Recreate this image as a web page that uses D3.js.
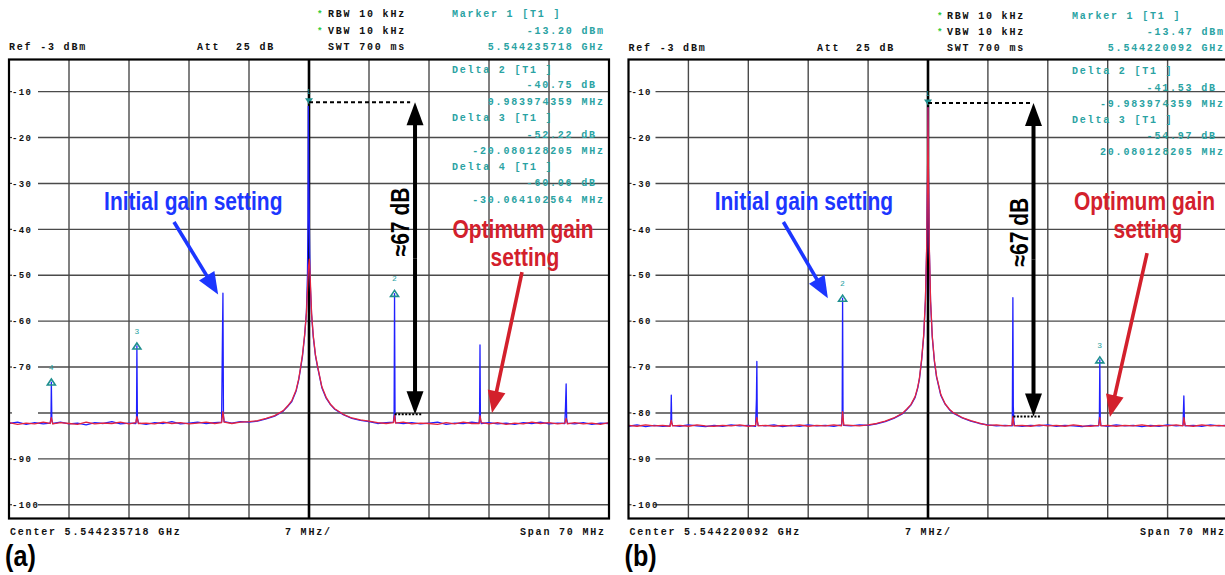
<!DOCTYPE html>
<html><head><meta charset="utf-8">
<script src="https://cdn.jsdelivr.net/npm/d3@7"></script>
<style>
body{margin:0;background:#fff;}
svg{display:block;}
</style></head><body>
<svg id="c" width="1225" height="575"></svg>
<script>
// ---------------- DATA ----------------
// frequency offset from centre (MHz), level (dBm)
const yTicks = [-10,-20,-30,-40,-50,-60,-70,-80,-90,-100];
const xGridOffsets = [-28,-21,-14,-7,7,14,21,28];

const blueA = [
[-35,-82.3],[-34,-82.0],[-33,-82.5],[-32,-82.1],[-31,-82.4],
[-30.2,-82.2],[-30.1,-81.0],[-30.06,-73.3],[-30.0,-81.6],[-29.9,-82.3],
[-29,-82.0],[-28,-82.4],[-27,-82.2],[-26,-82.6],[-25,-82.1],[-24,-82.3],[-23,-81.9],[-22,-82.4],[-21,-82.2],
[-20.2,-82.3],[-20.12,-81.2],[-20.08,-65.4],[-20.02,-81.0],[-19.9,-82.2],
[-19,-82.5],[-18,-82.1],[-17,-82.3],[-16,-81.9],[-15,-82.4],[-14,-82.2],[-13,-82.0],[-12,-82.3],[-11,-82.1],
[-10.2,-82.0],[-10.1,-63.7],[-10.04,-53.9],[-9.98,-80.6],[-9.9,-81.9],
[-9,-82.2],[-8,-81.9],[-7,-82.0],
[-6,-81.8],[-5,-81.3],[-4,-80.7],[-3,-79.6],[-2.5,-78.6],[-2,-77.5],[-1.5,-75.2],[-1.2,-72.8],[-1,-70.5],[-0.75,-67.5],[-0.5,-63.0],[-0.3,-58.0],[-0.18,-50.0],[-0.12,-38.0],[-0.08,-13.2],[-0.02,-30.0],[0.08,-45.0],[0.15,-52.0],[0.3,-58.5],[0.5,-63.5],[0.75,-67.5],[1,-70.0],[1.5,-74.5],[2,-76.8],[2.5,-78.2],[3,-79.2],[4,-80.4],[5,-81.2],[6,-81.6],
[7,-81.9],[8,-82.3],[9,-82.1],
[9.85,-82.0],[9.93,-80.2],[9.98,-54.0],[10.04,-80.8],[10.1,-82.1],
[11,-82.3],[12,-82.1],[13,-82.4],[14,-82.2],[15,-82.0],[16,-82.5],[17,-82.2],[18,-82.3],[19,-82.0],
[19.85,-82.2],[19.9,-80.5],[19.95,-65.2],[20.0,-81.5],[20.1,-82.3],
[21,-82.1],[22,-82.4],[23,-82.2],[24,-82.5],[25,-82.1],[26,-82.3],[27,-82.0],[28,-82.4],[29,-82.2],
[29.85,-82.3],[29.92,-78.9],[30.0,-73.7],[30.06,-81.2],[30.15,-82.2],
[31,-82.4],[32,-82.1],[33,-82.5],[34,-82.2],[35,-82.3]
];
const redA = [
[-35,-82.1],[-34,-82.5],[-33,-82.2],[-32,-82.4],[-31,-82.0],
[-30.2,-82.3],[-30.06,-81.0],[-29.9,-82.4],
[-29,-82.1],[-28,-82.3],[-27,-82.5],[-26,-82.0],[-25,-82.4],[-24,-82.2],[-23,-82.3],[-22,-82.0],[-21,-82.4],
[-20.2,-82.1],[-20.08,-80.8],[-19.9,-82.3],
[-19,-82.2],[-18,-82.4],[-17,-82.0],[-16,-82.3],[-15,-82.1],[-14,-82.4],[-13,-82.2],[-12,-82.0],[-11,-82.3],
[-10.2,-82.1],[-10.04,-79.7],[-9.9,-82.0],
[-9,-82.3],[-8,-82.0],[-7,-81.9],
[-6,-81.7],[-5,-81.2],[-4,-80.6],[-3,-79.5],[-2.5,-78.5],[-2,-77.3],[-1.5,-75.0],[-1.2,-72.6],[-1,-70.3],[-0.75,-67.2],[-0.5,-62.8],[-0.3,-58.2],[-0.15,-52.0],[-0.05,-48.0],[0.05,-46.5],[0.15,-51.0],[0.3,-58.3],[0.5,-63.2],[0.75,-67.3],[1,-69.8],[1.5,-74.3],[2,-76.6],[2.5,-78.1],[3,-79.1],[4,-80.3],[5,-81.1],[6,-81.5],
[7,-81.8],[8,-82.1],[9,-82.3],
[9.85,-82.1],[9.98,-80.5],[10.1,-82.2],
[11,-82.0],[12,-82.4],[13,-82.2],[14,-82.3],[15,-82.5],[16,-82.1],[17,-82.4],[18,-82.0],[19,-82.3],
[19.85,-82.3],[19.95,-80.6],[20.1,-82.1],
[21,-82.4],[22,-82.1],[23,-82.5],[24,-82.2],[25,-82.4],[26,-82.0],[27,-82.3],[28,-82.1],[29,-82.4],
[29.85,-82.2],[30.0,-81.2],[30.15,-82.4],
[31,-82.1],[32,-82.4],[33,-82.2],[34,-82.5],[35,-82.1]
];

const blueB = [
[-35,-82.9],[-34,-82.6],[-33,-83.0],[-32,-82.7],[-31,-82.9],
[-30.15,-82.8],[-30.05,-81.6],[-30.0,-76.1],[-29.95,-82.1],[-29.85,-82.7],
[-29,-82.9],[-28,-82.6],[-27,-82.8],[-26,-83.0],[-25,-82.7],[-24,-82.9],[-23,-82.6],[-22,-82.8],[-21,-82.7],
[-20.15,-82.9],[-20.05,-77.0],[-20.0,-68.8],[-19.95,-81.8],[-19.85,-82.7],
[-19,-82.8],[-18,-82.6],[-17,-83.0],[-16,-82.7],[-15,-82.9],[-14,-82.6],[-13,-82.8],[-12,-82.7],[-11,-82.9],
[-10.1,-82.6],[-10.03,-80.2],[-9.98,-55.0],[-9.93,-81.2],[-9.85,-82.7],
[-9,-82.8],[-8,-82.6],[-7,-82.7],
[-6,-82.4],[-5,-81.9],[-4,-81.2],[-3,-80.2],[-2.5,-79.3],[-2,-78.3],[-1.5,-76.6],[-1.2,-74.6],[-1,-72.6],[-0.75,-68.6],[-0.5,-63.2],[-0.3,-55.5],[-0.15,-44.0],[-0.05,-28.0],[0,-13.47],[0.05,-28.0],[0.15,-44.0],[0.3,-55.8],[0.5,-63.5],[0.75,-68.8],[1,-72.2],[1.5,-76.2],[2,-78.1],[2.5,-79.3],[3,-80.1],[4,-81.1],[5,-81.8],[6,-82.3],
[7,-82.6],[8,-82.8],[9,-82.7],
[9.85,-82.8],[9.92,-54.9],[9.97,-78.6],[10.03,-81.6],[10.1,-82.7],
[11,-82.9],[12,-82.7],[13,-82.8],[14,-82.6],[15,-82.9],[16,-82.7],[17,-82.8],[18,-83.0],[19,-82.7],
[19.95,-82.8],[20.03,-80.6],[20.08,-68.44],[20.13,-81.2],[20.2,-82.7],
[21,-82.9],[22,-82.6],[23,-82.8],[24,-82.7],[25,-83.0],[26,-82.7],[27,-82.9],[28,-82.6],[29,-82.8],
[29.8,-82.7],[29.9,-76.3],[29.97,-82.0],[30.05,-82.8],
[31,-82.7],[32,-82.9],[33,-82.6],[34,-82.8],[35,-82.7]
];
const redB = [
[-35,-82.7],[-34,-82.9],[-33,-82.6],[-32,-82.8],[-31,-82.7],
[-30.15,-82.9],[-30.0,-81.6],[-29.85,-82.8],
[-29,-82.7],[-28,-82.9],[-27,-82.6],[-26,-82.8],[-25,-82.9],[-24,-82.7],[-23,-82.8],[-22,-82.6],[-21,-82.9],
[-20.15,-82.7],[-20.0,-81.0],[-19.85,-82.8],
[-19,-82.7],[-18,-82.9],[-17,-82.7],[-16,-82.8],[-15,-82.6],[-14,-82.9],[-13,-82.7],[-12,-82.8],[-11,-82.6],
[-10.1,-82.8],[-9.98,-79.7],[-9.85,-82.6],
[-9,-82.7],[-8,-82.8],[-7,-82.6],
[-6,-82.3],[-5,-81.8],[-4,-81.1],[-3,-80.1],[-2.5,-79.2],[-2,-78.2],[-1.5,-76.4],[-1.2,-74.4],[-1,-72.4],[-0.75,-68.4],[-0.5,-63.0],[-0.3,-55.2],[-0.15,-43.5],[-0.05,-27.5],[0,-13.47],[0.05,-27.5],[0.15,-43.5],[0.3,-55.5],[0.5,-63.3],[0.75,-68.6],[1,-72.0],[1.5,-76.0],[2,-78.0],[2.5,-79.2],[3,-80.0],[4,-81.0],[5,-81.7],[6,-82.2],
[7,-82.7],[8,-82.6],[9,-82.8],
[9.8,-82.7],[9.92,-80.8],[10.05,-82.8],
[11,-82.7],[12,-82.9],[13,-82.6],[14,-82.8],[15,-82.7],[16,-82.9],[17,-82.6],[18,-82.8],[19,-82.9],
[19.95,-82.7],[20.08,-81.0],[20.2,-82.8],
[21,-82.7],[22,-82.9],[23,-82.7],[24,-82.8],[25,-82.6],[26,-82.9],[27,-82.7],[28,-82.8],[29,-82.6],
[29.8,-82.8],[29.9,-81.0],[30.05,-82.7],
[31,-82.9],[32,-82.6],[33,-82.8],[34,-82.7],[35,-82.9]
];

// markers: [id, offset MHz, level dBm]
const markersA = [[1,0,-13.2],[2,9.98,-53.95],[3,-20.08,-65.42],[4,-30.06,-73.26]];
const markersB = [[1,0,-13.47],[2,-9.98,-55.0],[3,20.08,-68.44]];

// instrument readouts
const headerA = {ref:"Ref -3 dBm", att:"Att  25 dB", rbw:"RBW 10 kHz", vbw:"VBW 10 kHz", swt:"SWT 700 ms",
  m1:"Marker 1 [T1 ]", m1lvl:"-13.20 dBm", m1f:"5.544235718 GHz",
  center:"Center 5.544235718 GHz", div:"7 MHz/", span:"Span 70 MHz"};
const headerB = {ref:"Ref -3 dBm", att:"Att  25 dB", rbw:"RBW 10 kHz", vbw:"VBW 10 kHz", swt:"SWT 700 ms",
  m1:"Marker 1 [T1 ]", m1lvl:"-13.47 dBm", m1f:"5.544220092 GHz",
  center:"Center 5.544220092 GHz", div:"7 MHz/", span:"Span 70 MHz"};
const deltasA = [["Delta 2 [T1 ]","-40.75 dB","9.983974359 MHz"],["Delta 3 [T1 ]","-52.22 dB","-20.080128205 MHz"],["Delta 4 [T1 ]","-60.06 dB","-30.064102564 MHz"]];
const deltasB = [["Delta 2 [T1 ]","-41.53 dB","-9.983974359 MHz"],["Delta 3 [T1 ]","-54.97 dB","20.080128205 MHz"]];

// ---------------- DRAWING ----------------
const svg = d3.select("#c");
const TEAL = "#2aa3a3", BLUE = "#2020ff", RED = "#e3243f";
const ABLUE = "#1c36ff", ARED = "#d3202c";
const MONO = "'Liberation Mono','DejaVu Sans Mono',monospace";
const SANS = "'Liberation Sans',Arial,sans-serif";

function mono(g, str, x, y, o={}) {
  const size = o.size||10, ls = (o.ls!==undefined)?o.ls:1.8;
  const cw = 0.6*size + ls;
  let x0 = x;
  if (o.anchor==="end") x0 = x - str.length*cw + ls;
  return g.append("text").attr("x",x0).attr("y",y)
    .attr("font-family",MONO).attr("font-weight","bold").attr("font-size",size)
    .attr("letter-spacing",ls).style("white-space","pre")
    .attr("fill",o.color||"#111").text(str);
}
function bigText(g, str, x, y, color, size, anchor, rot) {
  const t = g.append("text")
    .attr("transform",`translate(${x},${y}) rotate(${rot||0}) scale(0.84,1)`)
    .attr("font-family",SANS).attr("font-weight","bold").attr("font-size",size)
    .attr("text-anchor",anchor||"middle").attr("fill",color).text(str);
  return t;
}
function arrow(g, x1,y1,x2,y2,color,w,hl,hw) {
  const dx=x2-x1, dy=y2-y1, L=Math.hypot(dx,dy), ux=dx/L, uy=dy/L;
  const bx=x2-ux*hl, by=y2-uy*hl;
  g.append("line").attr("x1",x1).attr("y1",y1).attr("x2",bx+ux*2).attr("y2",by+uy*2)
    .attr("stroke",color).attr("stroke-width",w);
  g.append("path").attr("d",`M${x2},${y2}L${bx-uy*hw},${by+ux*hw}L${bx+uy*hw},${by-ux*hw}Z`).attr("fill",color);
}

function panel(cfg) {
  const g = svg.append("g");
  const x = d3.scaleLinear().domain([-35,35]).range([cfg.left,cfg.right]);
  const y = d3.scaleLinear().domain([-3,-103]).range([59.5,518.5]);
  const id = "clip"+cfg.name;
  svg.append("clipPath").attr("id",id).append("rect")
    .attr("x",cfg.left).attr("y",59.5).attr("width",cfg.right-cfg.left).attr("height",459);

  // grid
  g.selectAll(".vg").data(xGridOffsets).enter().append("line")
    .attr("x1",d=>x(d)).attr("x2",d=>x(d)).attr("y1",y(-3)).attr("y2",y(-103))
    .attr("stroke","#4a4a4a").attr("stroke-width",1.4);
  g.selectAll(".hg").data(yTicks).enter().append("line")
    .attr("x1",cfg.left+cfg.gridStart).attr("x2",cfg.right).attr("y1",d=>y(d)).attr("y2",d=>y(d))
    .attr("stroke","#4a4a4a").attr("stroke-width",1.4);
  g.selectAll(".tk").data(yTicks).enter().append("line")
    .attr("x1",cfg.left).attr("x2",cfg.left+3).attr("y1",d=>y(d)).attr("y2",d=>y(d))
    .attr("stroke","#333").attr("stroke-width",1.2);
  yTicks.forEach(v=>{
    if (cfg.hideLabels.includes(v)) return;
    mono(g, String(v), cfg.left+3, y(v)+3.2, {size:9, ls:1.4});
  });
  // centre line
  g.append("line").attr("x1",x(0)).attr("x2",x(0)).attr("y1",y(-3)).attr("y2",y(-103))
    .attr("stroke","#000").attr("stroke-width",2.6);

  // traces
  const line = d3.line().x(d=>x(d[0])).y(d=>y(d[1]));
  const tg = g.append("g").attr("clip-path",`url(#${id})`);
  tg.append("path").datum(cfg.blue).attr("d",line).attr("fill","none")
    .attr("stroke",BLUE).attr("stroke-width",1.3).attr("stroke-linejoin","round");
  tg.append("path").datum(cfg.red).attr("d",line).attr("fill","none")
    .attr("stroke",RED).attr("stroke-width",1.3).attr("stroke-linejoin","round");

  // markers
  cfg.markers.forEach(([mid,f,v])=>{
    const mx=x(f), my=y(v);
    if (mid===1) {
      g.append("path").attr("d",`M${mx-4},${my-8}L${mx+4},${my-8}L${mx},${my-2}Z`).attr("fill","#1f8f8f");
      mono(g,"1",mx-2.5,my-12,{size:7,ls:0,color:TEAL}).attr("font-weight","normal");
    } else {
      g.append("path").attr("d",`M${mx-4},${my+3}L${mx},${my-3}L${mx+4},${my+3}Z`)
        .attr("fill","none").attr("stroke","#1f8f8f").attr("stroke-width",1.6);
      mono(g,String(mid),mx-2.5,my-12,{size:8,ls:0,color:TEAL}).attr("font-weight","normal");
    }
  });

  // frame
  g.append("rect").attr("x",cfg.left).attr("y",59.5).attr("width",cfg.right-cfg.left).attr("height",459)
    .attr("fill","none").attr("stroke","#000").attr("stroke-width",2.2);

  // readouts
  const h = cfg.header, r = cfg.rows;
  mono(g,h.ref,cfg.left,r[2]);
  mono(g,h.att,cfg.attX,r[2]);
  g.append("text").attr("x",cfg.starX).attr("y",r[0]-1).attr("fill","#2ecc40").attr("font-size",9).attr("font-family",SANS).attr("font-weight","bold").text("*");
  g.append("text").attr("x",cfg.starX).attr("y",r[1]-1).attr("fill","#2ecc40").attr("font-size",9).attr("font-family",SANS).attr("font-weight","bold").text("*");
  mono(g,h.rbw,cfg.rbwX,r[0]);
  mono(g,h.vbw,cfg.rbwX,r[1]);
  mono(g,h.swt,cfg.rbwX,r[2]);
  mono(g,h.m1,cfg.mX,r[0],{color:TEAL});
  mono(g,h.m1lvl,cfg.rEnd,r[1],{color:TEAL,anchor:"end"});
  mono(g,h.m1f,cfg.rEnd,r[2],{color:TEAL,anchor:"end"});
  cfg.deltas.forEach((d,i)=>{
    const b = cfg.deltaRows[i];
    mono(g,d[0],cfg.mX,b[0],{color:TEAL});
    mono(g,d[1],cfg.rEnd-8,b[1],{color:TEAL,anchor:"end"});
    mono(g,d[2],cfg.rEnd,b[2],{color:TEAL,anchor:"end"});
  });
  mono(g,h.center,cfg.left+1,535);
  mono(g,h.div,cfg.divX,535);
  mono(g,h.span,cfg.rEnd+1,535,{anchor:"end"});

  // annotations (data coordinates)
  const a = cfg.ann;
  g.append("line").attr("x1",x(0)).attr("x2",x(a.dashEnd)).attr("y1",y(a.top)).attr("y2",y(a.top))
    .attr("stroke","#000").attr("stroke-width",2).attr("stroke-dasharray","4,3");
  g.append("line").attr("x1",x(a.dotStart)).attr("x2",x(a.dotEnd)).attr("y1",y(a.bottom)).attr("y2",y(a.bottom))
    .attr("stroke","#000").attr("stroke-width",2).attr("stroke-dasharray","2,1.5");
  const ax = x(a.arrowX);
  arrow(g, ax, (y(a.top)+y(a.bottom))/2, ax, y(a.top), "#000", 4, 23, 8.5);
  arrow(g, ax, (y(a.top)+y(a.bottom))/2, ax, y(a.bottom), "#000", 4, 23, 8.5);
  bigText(g, "≈67 dB", x(a.dbX), y(a.dbY), "#000", 25, "middle", -90);
  bigText(g, "Initial gain setting", x(a.initX), y(a.initY), ABLUE, 25);
  arrow(g, x(a.bArrow[0]), y(a.bArrow[1]), x(a.bArrow[2]), y(a.bArrow[3]), ABLUE, 3.6, 22, 9);
  bigText(g, "Optimum gain", x(a.optX), y(a.optY), ARED, 25);
  bigText(g, "setting", x(a.setX), y(a.setY), ARED, 25);
  arrow(g, x(a.rArrow[0]), y(a.rArrow[1]), x(a.rArrow[2]), y(a.rArrow[3]), ARED, 3.6, 22, 9);

  bigText(g, cfg.tag, cfg.left-4, 566, "#000", 30, "start");
}

panel({name:"A", left:9, right:609, gridStart:29, hideLabels:[-80], blue:blueA, red:redA, markers:markersA,
  header:headerA, deltas:deltasA, rows:[17,34,50], deltaRows:[[72.5,88,104.5],[121,137.5,154],[169.5,186,202.5]],
  attX:197, starX:318, rbwX:328, mX:452, rEnd:603, divX:285, tag:"(a)",
  ann:{top:-12.3, bottom:-80.3, dashEnd:11.8, dotStart:10.0, dotEnd:13.2, arrowX:12.37, dbX:11.67, dbY:-38.4,
       initX:-13.5, initY:-35.8, bArrow:[-15.75,-38.4,-10.6,-54.2],
       optX:24.97, optY:-41.9, setX:25.2, setY:-48.0, rArrow:[24.85,-49.3,21.35,-80.0]}});
panel({name:"B", left:628.5, right:1227.5, gridStart:27, hideLabels:[], blue:blueB, red:redB, markers:markersB,
  header:headerB, deltas:deltasB, rows:[19,35,51], deltaRows:[[74,91,107],[122.5,139,155]],
  attX:817, starX:938, rbwX:947, mX:1072, rEnd:1223, divX:905, tag:"(b)",
  ann:{top:-12.5, bottom:-80.8, dashEnd:11.97, dotStart:9.98, dotEnd:13.1, arrowX:12.33, dbX:11.74, dbY:-40.6,
       initX:-14.5, initY:-35.8, bArrow:[-16.9,-38.4,-11.7,-55.0],
       optX:25.3, optY:-35.8, setX:25.7, setY:-41.9, rArrow:[25.6,-45.2,21.26,-80.9]}});
</script>
</body></html>
